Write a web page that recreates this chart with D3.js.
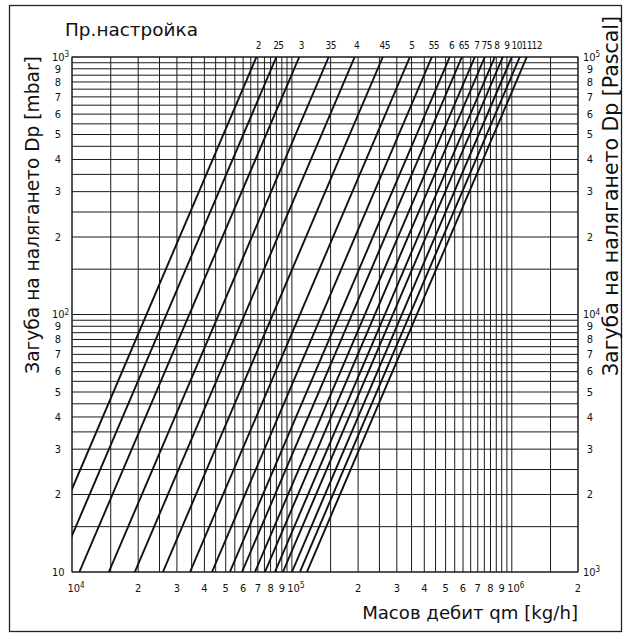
<!DOCTYPE html>
<html>
<head>
<meta charset="utf-8">
<script src="https://cdn.jsdelivr.net/npm/d3@7"></script>
<style>
  body { margin: 0; background: #fff; }
  svg text { fill: #111; }
  .tick-lbl { font-family: "DejaVu Sans Condensed", "Liberation Sans Narrow", "DejaVu Sans", sans-serif; font-size: 11px; }
  .title { font-family: "DejaVu Sans", sans-serif; font-size: 18px; }
</style>
</head>
<body>
<div id="chart"></div>
<script>
// preset settings (labels as printed on the chart: 25 = 2.5 etc.)
var settings = ["2", "25", "3", "35", "4", "45", "5", "55", "6", "65", "7", "75", "8", "9", "10", "11", "12"];
// mass flow [kg/h] where each preset line reaches 1000 mbar and 10 mbar
var qAt1000 = [69000, 85000, 108000, 147000, 193000, 259000, 344000, 433000, 522000, 593000, 679000, 754000, 837000, 910000, 1000000, 1087000, 1170000];
var qAt10   = [6900, 8500, 10800, 14700, 19300, 25900, 34400, 43300, 52200, 59300, 67900, 75400, 83700, 91000, 100000, 108700, 117000];

// grid steps inside each decade
var gridSteps = [1, 1.5, 2, 2.5, 3, 3.5, 4, 4.5, 5, 5.5, 6, 6.5, 7, 7.5, 8, 8.5, 9, 9.5];
var xDecades = [1e4, 1e5, 1e6];
var yDecades = [10, 100];

// tick labels
var xLabels = [[1e4, "10", "4"], [2e4, "2"], [3e4, "3"], [4e4, "4"], [5e4, "5"], [6e4, "6"], [7e4, "7"], [8e4, "8"], [9e4, "9"],
               [1e5, "10", "5"], [2e5, "2"], [3e5, "3"], [4e5, "4"], [5e5, "5"], [6e5, "6"], [7e5, "7"], [8e5, "8"], [9e5, "9"],
               [1e6, "10", "6"], [2e6, "2"]];
var yLeftLabels = [[1000, "10", "3"], [900, "9"], [800, "8"], [700, "7"], [600, "6"], [500, "5"], [400, "4"], [300, "3"], [200, "2"],
                   [100, "10", "2"], [90, "9"], [80, "8"], [70, "7"], [60, "6"], [50, "5"], [40, "4"], [30, "3"], [20, "2"], [10, "10"]];
var yRightLabels = [[1e5, "10", "5"], [9e4, "9"], [8e4, "8"], [7e4, "7"], [6e4, "6"], [5e4, "5"], [4e4, "4"], [3e4, "3"], [2e4, "2"],
                    [1e4, "10", "4"], [9e3, "9"], [8e3, "8"], [7e3, "7"], [6e3, "6"], [5e3, "5"], [4e3, "4"], [3e3, "3"], [2e3, "2"], [1e3, "10", "3"]];

var svgWidth = 630, svgHeight = 639;
var pLeft = 72, pRight = 578, pTop = 57, pBottom = 572;

var svg = d3.select("#chart").append("svg")
  .attr("width", svgWidth)
  .attr("height", svgHeight);

// outer frame
svg.append("rect")
  .attr("x", 9.5).attr("y", 5.5)
  .attr("width", 612).attr("height", 626)
  .attr("fill", "none").attr("stroke", "#222").attr("stroke-width", 1.3);

var x = d3.scaleLog().domain([1e4, 2e6]).range([pLeft, pRight]);
var y = d3.scaleLog().domain([10, 1000]).range([pBottom, pTop]);
var yPa = d3.scaleLog().domain([1e3, 1e5]).range([pBottom, pTop]);

// grid values
var xGrid = [];
xDecades.forEach(d => gridSteps.forEach(s => { if (d * s <= 2e6) xGrid.push(d * s); }));
var yGrid = [];
yDecades.forEach(d => gridSteps.forEach(s => yGrid.push(d * s)));
yGrid.push(1000);

var grid = svg.append("g").attr("stroke", "#1a1a1a").attr("stroke-width", 1);
grid.selectAll(".vx").data(xGrid).enter().append("line")
  .attr("x1", d => x(d)).attr("x2", d => x(d))
  .attr("y1", pTop).attr("y2", pBottom);
grid.selectAll(".hy").data(yGrid).enter().append("line")
  .attr("y1", d => y(d)).attr("y2", d => y(d))
  .attr("x1", pLeft).attr("x2", pRight);
grid.append("rect")
  .attr("x", pLeft).attr("y", pTop)
  .attr("width", pRight - pLeft).attr("height", pBottom - pTop)
  .attr("fill", "none");

// preset lines
svg.append("clipPath").attr("id", "plot-clip").append("rect")
  .attr("x", pLeft).attr("y", pTop).attr("width", pRight - pLeft).attr("height", pBottom - pTop);

var lineData = settings.map((s, i) => ({ label: s, pts: [[qAt10[i], 10], [qAt1000[i], 1000]] }));
var line = d3.line().x(d => x(d[0])).y(d => y(d[1]));

svg.append("g").attr("clip-path", "url(#plot-clip)")
  .selectAll("path").data(lineData).enter().append("path")
  .attr("d", d => line(d.pts))
  .attr("fill", "none").attr("stroke", "#111").attr("stroke-width", 1.9);

// setting labels over the line ends, spread so they do not overlap
var lastX = -1e9;
var lblPos = lineData.map(d => {
  var px = Math.max(x(d.pts[1][0]) + 2, lastX + 10);
  lastX = px;
  return px;
});
svg.append("g").selectAll("text").data(lineData).enter().append("text")
  .attr("class", "tick-lbl")
  .attr("x", (d, i) => lblPos[i]).attr("y", 49)
  .attr("text-anchor", "middle")
  .style("font-size", "10px")
  .style("letter-spacing", "-0.5px")
  .text(d => d.label);

function addLabel(g, item, px, py, anchor) {
  var t = g.append("text").attr("class", "tick-lbl")
    .attr("x", px).attr("y", py).attr("dy", "0.35em")
    .attr("text-anchor", anchor);
  t.append("tspan").text(item[1]);
  if (item[2]) {
    t.append("tspan").attr("dy", "-0.45em").style("font-size", "8px").text(item[2]);
  }
}

var gx = svg.append("g");
xLabels.forEach(d => addLabel(gx, d, x(d[0]) + (d[2] ? 4 : 0), 588, "middle"));

var gl = svg.append("g");
yLeftLabels.forEach(d => {
  if (d[1] === "10") addLabel(gl, d, 52, y(d[0]), "start");
  else addLabel(gl, d, 58, y(d[0]), "middle");
});

var gr = svg.append("g");
yRightLabels.forEach(d => {
  if (d[2]) addLabel(gr, d, 583, yPa(d[0]), "start");
  else addLabel(gr, d, 590, yPa(d[0]), "middle");
});

// titles, font size tuned so each text spans about the same length as in the original
function fitTitle(t, len) {
  var w = t.node().getComputedTextLength();
  t.style("font-size", (18 * len / w).toFixed(2) + "px");
  return t;
}

fitTitle(svg.append("text").attr("class", "title")
  .attr("x", 65).attr("y", 36)
  .text("Пр.настройка"), 133);

fitTitle(svg.append("text").attr("class", "title")
  .attr("transform", "translate(39,215) rotate(-90)")
  .attr("text-anchor", "middle")
  .text("Загуба на налягането Dp [mbar]"), 318);

fitTitle(svg.append("text").attr("class", "title")
  .attr("transform", "translate(618,196) rotate(-90)")
  .attr("text-anchor", "middle")
  .text("Загуба на налягането Dp [Pascal]"), 360);

fitTitle(svg.append("text").attr("class", "title")
  .attr("x", pRight).attr("y", 619)
  .attr("text-anchor", "end")
  .text("Масов дебит qm [kg/h]"), 216);
</script>
</body>
</html>
